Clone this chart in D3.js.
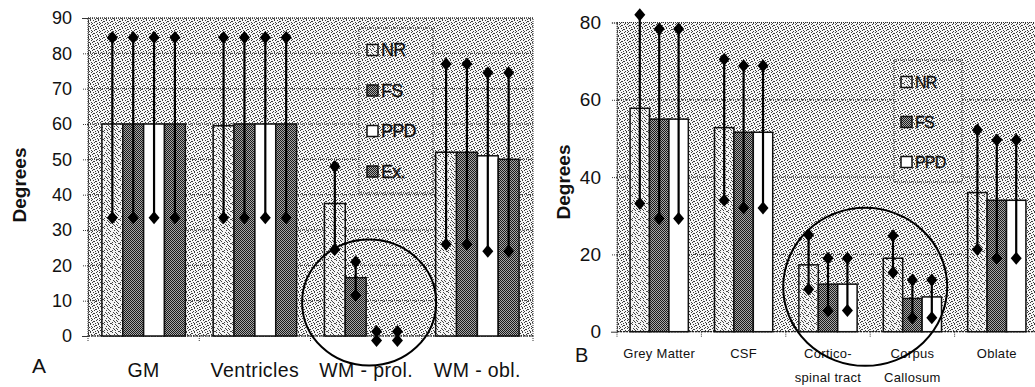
<!DOCTYPE html>
<html><head><meta charset="utf-8">
<script src="https://cdn.jsdelivr.net/npm/d3@7"></script>
<style>body{margin:0;background:#fff}svg{display:block}text{font-family:"Liberation Sans",Arial,sans-serif;fill:#111}</style>
</head><body><svg id="c" width="1035" height="387"></svg>
<script>
// ---------- Panel A data ----------
const catsA = ["GM", "Ventricles", "WM - prol.", "WM - obl."];
const seriesA = ["NR", "FS", "PPD", "Ex."];
const meanA_NR  = [60, 59.5, 37.5, 52];
const meanA_FS  = [60, 60, 16.5, 52];
const meanA_PPD = [60, 60, 0, 51];
const meanA_Ex  = [60, 60, 0, 50];
const hiA_NR  = [84.5, 84.5, 48, 77];   const loA_NR  = [33.5, 33.5, 24.5, 26];
const hiA_FS  = [84.5, 84.5, 21, 77];   const loA_FS  = [33.5, 33.5, 11.5, 26];
const hiA_PPD = [84.5, 84.5, 1.3, 74.5]; const loA_PPD = [33.5, 33.5, -1.3, 24];
const hiA_Ex  = [84.5, 84.5, 1.3, 74.5]; const loA_Ex  = [33.5, 33.5, -1.3, 24];
const ticksA = [0, 10, 20, 30, 40, 50, 60, 70, 80, 90];

// ---------- Panel B data ----------
const catsB = ["Grey Matter", "CSF", "Cortico-spinal tract", "Corpus Callosum", "Oblate"];
const labelLinesB = [["Grey Matter"], ["CSF"], ["Cortico-", "spinal tract"], ["Corpus", "Callosum"], ["Oblate"]];
const seriesB = ["NR", "FS", "PPD"];
const meanB_NR  = [57.8, 52.8, 17.3, 19, 36];
const meanB_FS  = [55, 51.6, 12.3, 8.6, 34];
const meanB_PPD = [55, 51.6, 12.3, 9, 34];
const hiB_NR  = [82, 70.5, 25, 24.8, 52.2];  const loB_NR  = [33.2, 34, 11, 15.3, 21.3];
const hiB_FS  = [78.3, 68.8, 19, 13.4, 49.6]; const loB_FS  = [29.3, 32, 5.4, 3.6, 19];
const hiB_PPD = [78.3, 68.8, 19, 13.4, 49.6]; const loB_PPD = [29.3, 32, 5.5, 3.6, 19];
const ticksB = [0, 20, 40, 60, 80];

const svg = d3.select("#c");
const defs = svg.append("defs");

// halftone-like patterns (fixed dot layouts)
function pattern(id, size, base, dots, dotColor) {
  const p = defs.append("pattern").attr("id", id).attr("patternUnits", "userSpaceOnUse")
    .attr("width", size).attr("height", size);
  p.append("rect").attr("width", size).attr("height", size).attr("fill", base);
  dots.forEach(([x, y]) => p.append("rect").attr("x", x).attr("y", y).attr("width", 1).attr("height", 1).attr("fill", dotColor));
}
pattern("bg", 8, "#f6f6f6",
  [[0,0],[3,0],[6,1],[1,2],[4,2],[7,3],[2,4],[5,4],[0,5],[3,6],[6,6],[1,7],[4,7],[7,5],[5,1],[2,3]], "#3a3a3a");
pattern("nr", 8, "#f4f4f4",
  [[1,0],[5,1],[3,2],[7,3],[0,4],[4,5],[2,6],[6,7],[6,3],[2,1],[4,0],[0,2],[5,6],[3,4]], "#444");
pattern("fs", 2, "#a8a8a8", [[0,0],[1,1]], "#1a1a1a");

const fills = {"NR": "url(#nr)", "FS": "url(#fs)", "PPD": "#ffffff", "Ex.": "url(#fs)"};

function panel(opt) {
  const {cats, series, means, his, los, ticks, x0, x1, yTop, yBot, yMax,
         padIn, padOut, tickFont, legend, legendFont, catLabel} = opt;
  const g = svg.append("g");
  const x = d3.scaleBand().domain(cats).range([x0, x1]).paddingInner(padIn).paddingOuter(padOut);
  const xs = d3.scaleBand().domain(series).range([0, x.bandwidth()]);
  const y = d3.scaleLinear().domain([0, yMax]).range([yBot, yTop]);

  // plot background
  g.append("rect").attr("x", x0).attr("y", yTop).attr("width", x1 - x0).attr("height", yBot - yTop)
    .attr("fill", "url(#bg)").attr("stroke", "#333").attr("stroke-width", 1).attr("stroke-dasharray", "1,1");

  // y-axis via d3 axis + gridlines
  const yAxis = d3.axisLeft(y).tickValues(ticks).tickSize(6).tickPadding(10);
  const ya = g.append("g").attr("transform", `translate(${x0},0)`).call(yAxis);
  ya.select(".domain").attr("stroke", "#333").attr("stroke-dasharray", "1,1");
  ya.selectAll(".tick line").attr("stroke", "#333").attr("stroke-dasharray", "1,1");
  ya.selectAll(".tick text").attr("font-size", tickFont).attr("fill", "#111")
    .attr("font-family", "Liberation Sans, Arial, sans-serif");
  g.append("g").selectAll("line").data(ticks.filter(t => t > 0)).join("line")
    .attr("x1", x0).attr("x2", x1).attr("y1", d => y(d)).attr("y2", d => y(d))
    .attr("stroke", "#333").attr("stroke-width", 1).attr("stroke-dasharray", "1,1");

  // x axis baseline and category boundary ticks
  g.append("line").attr("x1", x0).attr("x2", x1).attr("y1", y(0)).attr("y2", y(0))
    .attr("stroke", "#222").attr("stroke-width", 1.2).attr("stroke-dasharray", "2,1");
  const bounds = d3.range(cats.length + 1).map(i => x0 + i * x.step());
  g.append("g").selectAll("line").data(bounds).join("line")
    .attr("x1", d => d).attr("x2", d => d).attr("y1", y(0)).attr("y2", y(0) + 5)
    .attr("stroke", "#333").attr("stroke-dasharray", "1,1");

  // bars
  const barData = [];
  cats.forEach((c, i) => series.forEach((s, j) => barData.push({
    c, s, v: means[j][i], hi: his[j][i], lo: los[j][i]
  })));
  g.append("g").selectAll("rect").data(barData).join("rect")
    .attr("x", d => x(d.c) + xs(d.s)).attr("width", xs.bandwidth())
    .attr("y", d => y(Math.max(0, d.v))).attr("height", d => Math.max(0, y(0) - y(d.v)))
    .attr("fill", d => fills[d.s]).attr("stroke", "#111").attr("stroke-width", 1.5);

  // error bars
  const eb = g.append("g");
  eb.selectAll("line").data(barData).join("line")
    .attr("x1", d => x(d.c) + xs(d.s) + xs.bandwidth() / 2).attr("x2", d => x(d.c) + xs(d.s) + xs.bandwidth() / 2)
    .attr("y1", d => y(d.hi)).attr("y2", d => y(d.lo))
    .attr("stroke", "#000").attr("stroke-width", 2.2);
  const diamond = "M0,-6.5L5.5,0L0,6.5L-5.5,0Z";
  const pts = [];
  barData.forEach(d => { pts.push({d, v: d.hi}); pts.push({d, v: d.lo}); });
  eb.selectAll("path").data(pts).join("path")
    .attr("d", diamond).attr("fill", "#000")
    .attr("transform", p => `translate(${x(p.d.c) + xs(p.d.s) + xs.bandwidth() / 2},${y(p.v)})`);

  // category labels
  const cl = g.append("g");
  cats.forEach((c, i) => {
    const lines = catLabel.lines ? catLabel.lines[i] : [c];
    lines.forEach((ln, k) => {
      cl.append("text").attr("x", x(c) + x.bandwidth() / 2).attr("y", catLabel.y + k * catLabel.dy)
        .attr("text-anchor", "middle").attr("font-size", catLabel.size)
        .attr("letter-spacing", catLabel.ls).text(ln);
    });
  });

  // legend
  const L = legend;
  g.append("rect").attr("x", L.x).attr("y", L.y).attr("width", L.w).attr("height", L.h)
    .attr("fill", "url(#bg)").attr("stroke", "#333").attr("stroke-dasharray", "1,1");
  series.forEach((s, j) => {
    const cy = L.y + L.first + j * L.gap;
    g.append("rect").attr("x", L.x + L.sx).attr("y", cy - L.sw / 2).attr("width", L.sw).attr("height", L.sw)
      .attr("fill", fills[s]).attr("stroke", "#111").attr("stroke-width", 1.5);
    g.append("text").attr("x", L.x + L.sx + L.sw + 3).attr("y", cy + legendFont * 0.36)
      .attr("font-size", legendFont).attr("letter-spacing", -0.8).attr("stroke", "#111").attr("stroke-width", 0.3)
      .text(s);
  });
  return {x, y};
}

// Panel A
const A = panel({
  cats: catsA, series: seriesA,
  means: [meanA_NR, meanA_FS, meanA_PPD, meanA_Ex],
  his: [hiA_NR, hiA_FS, hiA_PPD, hiA_Ex],
  los: [loA_NR, loA_FS, loA_PPD, loA_Ex],
  ticks: ticksA, x0: 88, x1: 533, yTop: 18, yBot: 336, yMax: 90,
  padIn: 0.25, padOut: 0.125, tickFont: 18,
  legend: {x: 359, y: 28, w: 74, h: 165, first: 22, gap: 40.5, sx: 8, sw: 11},
  legendFont: 18,
  catLabel: {y: 377, dy: 0, size: 19.5, ls: 0.4}
});
// Panel B
const B = panel({
  cats: catsB, series: seriesB,
  means: [meanB_NR, meanB_FS, meanB_PPD],
  his: [hiB_NR, hiB_FS, hiB_PPD],
  los: [loB_NR, loB_FS, loB_PPD],
  ticks: ticksB, x0: 617, x1: 1039, yTop: 22.5, yBot: 331.7, yMax: 80,
  padIn: 0.31, padOut: 0.155, tickFont: 19,
  legend: {x: 894, y: 60, w: 68, h: 122, first: 22, gap: 40, sx: 7, sw: 11},
  legendFont: 16,
  catLabel: {y: 358, dy: 24, size: 13, ls: 0.3, lines: labelLinesB}
});

// axis titles
svg.append("text").attr("transform", "translate(26,185) rotate(-90)").attr("text-anchor", "middle")
  .attr("font-size", 19).attr("font-weight", "bold").text("Degrees");
svg.append("text").attr("transform", "translate(570,182) rotate(-90)").attr("text-anchor", "middle")
  .attr("font-size", 19).attr("font-weight", "bold").text("Degrees");

// panel letters
svg.append("text").attr("x", 32).attr("y", 373).attr("font-size", 21).text("A");
svg.append("text").attr("x", 575).attr("y", 362).attr("font-size", 20).text("B");

// highlight circles
svg.append("ellipse").attr("cx", A.x("WM - prol.") + A.x.bandwidth() / 2 + 3).attr("cy", A.y(9.5))
  .attr("rx", 67).attr("ry", 63).attr("fill", "none").attr("stroke", "#000").attr("stroke-width", 2);
svg.append("ellipse").attr("cx", (B.x("Cortico-spinal tract") + B.x("Corpus Callosum")) / 2 + B.x.bandwidth() / 2 - 5)
  .attr("cy", B.y(11.6)).attr("rx", 82).attr("ry", 79).attr("fill", "none").attr("stroke", "#000").attr("stroke-width", 2);
</script></body></html>
